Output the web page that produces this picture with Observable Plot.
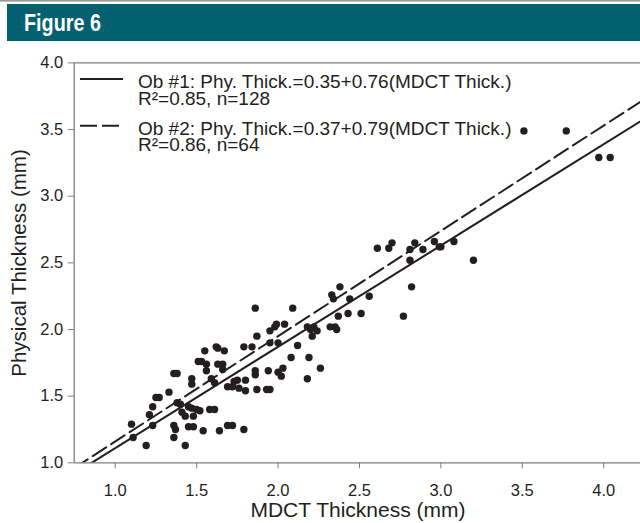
<!DOCTYPE html>
<html>
<head>
<meta charset="utf-8">
<script src="https://cdn.jsdelivr.net/npm/d3@7"></script>
<script src="https://cdn.jsdelivr.net/npm/@observablehq/plot@0.6"></script>
<style>
  html, body { margin: 0; padding: 0; background: #fff; }
  #chart svg { display: block; }
</style>
</head>
<body>
<svg id="hdr" width="640" height="48" style="display:block">
  <rect x="0" y="0" width="640" height="1.6" fill="#9a9a9a"></rect>
  <rect x="7" y="4" width="633" height="37" fill="#03606e"></rect>
  <text transform="translate(24,31) scale(0.86,1)" fill="#ffffff" style="font-family:'Liberation Sans',Arial,sans-serif;font-weight:bold;font-size:23px">Figure 6</text>
</svg>
<div id="chart"></div>
<script>
// ---- data ----
const mdct = [3.51,3.77,3.97,4.04,3.20,3.08,2.96,2.99,3.00,2.89,
  2.84,2.81,2.81,2.70,2.68,2.61,2.82,2.77,2.56,2.44,
  2.38,2.33,2.34,2.51,2.43,2.37,2.32,2.35,2.36,2.18,
  2.20,2.22,2.24,2.21,2.09,1.86,2.04,1.99,1.98,1.95,
  1.87,2.00,1.95,2.12,2.08,2.19,1.79,1.84,1.62,1.63,
  1.55,1.67,1.51,1.53,1.56,1.63,1.66,1.56,1.66,1.36,
  1.38,1.86,1.86,1.94,2.00,2.03,2.02,2.26,2.18,1.47,
  1.47,1.59,1.61,1.73,1.75,1.80,1.69,1.72,1.76,1.80,
  1.87,1.93,1.95,1.33,1.25,1.27,1.38,1.40,1.23,1.45,
  1.47,1.50,1.52,1.58,1.61,1.41,1.43,1.48,1.21,1.10,
  1.23,1.36,1.37,1.36,1.45,1.48,1.54,1.64,1.69,1.72,
  1.79,1.11,1.19,1.43];
const phys = [3.49,3.49,3.29,3.29,2.52,2.66,2.66,2.62,2.62,2.60,
  2.65,2.60,2.52,2.65,2.61,2.61,2.32,2.10,2.25,2.23,
  2.32,2.26,2.23,2.12,2.12,2.10,2.02,2.02,2.00,2.02,
  2.00,2.02,1.99,1.95,2.16,2.16,2.04,2.04,2.02,1.99,
  1.95,1.90,1.90,1.88,1.79,1.79,1.87,1.87,1.87,1.86,
  1.84,1.84,1.76,1.76,1.74,1.74,1.74,1.69,1.70,1.67,
  1.67,1.69,1.66,1.69,1.68,1.71,1.65,1.71,1.63,1.63,
  1.59,1.63,1.60,1.61,1.62,1.62,1.57,1.57,1.56,1.54,
  1.55,1.55,1.55,1.53,1.49,1.49,1.45,1.44,1.42,1.42,
  1.41,1.40,1.39,1.40,1.40,1.38,1.35,1.35,1.36,1.29,
  1.28,1.28,1.25,1.19,1.27,1.27,1.24,1.24,1.28,1.28,
  1.25,1.19,1.13,1.13];

const fitNames = ["Ob #1", "Ob #2"];
const fitIntercepts = [0.35, 0.37];
const fitSlopes = [0.76, 0.79];
const fitR2 = ["0.85", "0.86"];
const fitN = [128, 64];

const xTicks = [1.0, 1.5, 2.0, 2.5, 3.0, 3.5, 4.0];
const yTicks = [1.0, 1.5, 2.0, 2.5, 3.0, 3.5, 4.0];
const xLabel = "MDCT Thickness (mm)";
const yLabel = "Physical Thickness (mm)";

// ---- build ----
const xDomain = [0.748, 4.226];
const yDomain = [1.0, 4.0];
const points = mdct.map((x, i) => ({x, y: phys[i]}));
const fitLine = k => xDomain.map(x => ({x, y: fitIntercepts[k] + fitSlopes[k] * x}));

const ink = "#231f20";
const axisGray = "#7f7f7f";
const font = "'Liberation Sans', Arial, Helvetica, sans-serif";

const plot = Plot.plot({
  width: 640,
  height: 475,
  marginLeft: 73.7,
  marginRight: 0,
  marginTop: 14.4,
  marginBottom: 60.7,
  style: {fontFamily: font, color: ink, background: "transparent"},
  x: {domain: xDomain},
  y: {domain: yDomain},
  marks: [
    Plot.axisX({ticks: xTicks, tickFormat: d3.format(".1f"), tickSize: 6, tickPadding: 15, fontSize: 16.5, stroke: axisGray, label: null}),
    Plot.axisY({ticks: yTicks, tickFormat: d3.format(".1f"), tickSize: 6, tickPadding: 5, fontSize: 16.5, stroke: axisGray, label: null}),
    Plot.ruleY([yDomain[0]], {stroke: axisGray, strokeWidth: 1.3}),
    Plot.ruleY([yDomain[1]], {stroke: axisGray, strokeWidth: 1.3}),
    Plot.ruleX([xDomain[0]], {stroke: axisGray, strokeWidth: 1.3}),
    Plot.line(fitLine(0), {x: "x", y: "y", stroke: ink, strokeWidth: 2, clip: true}),
    Plot.line(fitLine(1), {x: "x", y: "y", stroke: ink, strokeWidth: 2, strokeDasharray: "16,6", clip: true}),
    Plot.dot(points, {x: "x", y: "y", r: 3.7, fill: ink, stroke: "none"})
  ]
});

const svg = d3.select(plot);
// legend
const legendText = [
  k => `${fitNames[k]}: Phy. Thick.=${fitIntercepts[k].toFixed(2)}+${fitSlopes[k].toFixed(2)}(MDCT Thick.)`,
  k => `R\u00B2=${fitR2[k]}, n=${fitN[k]}`
];
const lg = svg.append("g").attr("font-family", font).attr("font-size", 19).attr("fill", ink)
  .attr("text-anchor", "start");
[[31, 40.3, 57.3, null, 123], [77.7, 87, 103, "17,5", 119]].forEach(([ly, b1, b2, dash, x2], k) => {
  const l = lg.append("line").attr("x1", 80).attr("x2", x2).attr("y1", ly).attr("y2", ly)
    .attr("stroke", ink).attr("stroke-width", 2);
  if (dash) l.attr("stroke-dasharray", dash);
  lg.append("text").attr("x", 138).attr("y", b1).attr("text-anchor", "start").text(legendText[0](k));
  lg.append("text").attr("x", 138).attr("y", b2).attr("text-anchor", "start").text(legendText[1](k));
});
// axis titles
svg.append("text").attr("x", 358).attr("y", 469).attr("text-anchor", "middle")
  .attr("font-family", font).attr("font-size", 21).attr("fill", ink).text(xLabel);
svg.append("text").attr("transform", "translate(26,215) rotate(-90)").attr("text-anchor", "middle")
  .attr("font-family", font).attr("font-size", 20.5).attr("fill", ink).text(yLabel);

document.getElementById("chart").appendChild(plot);
</script>
</body>
</html>
